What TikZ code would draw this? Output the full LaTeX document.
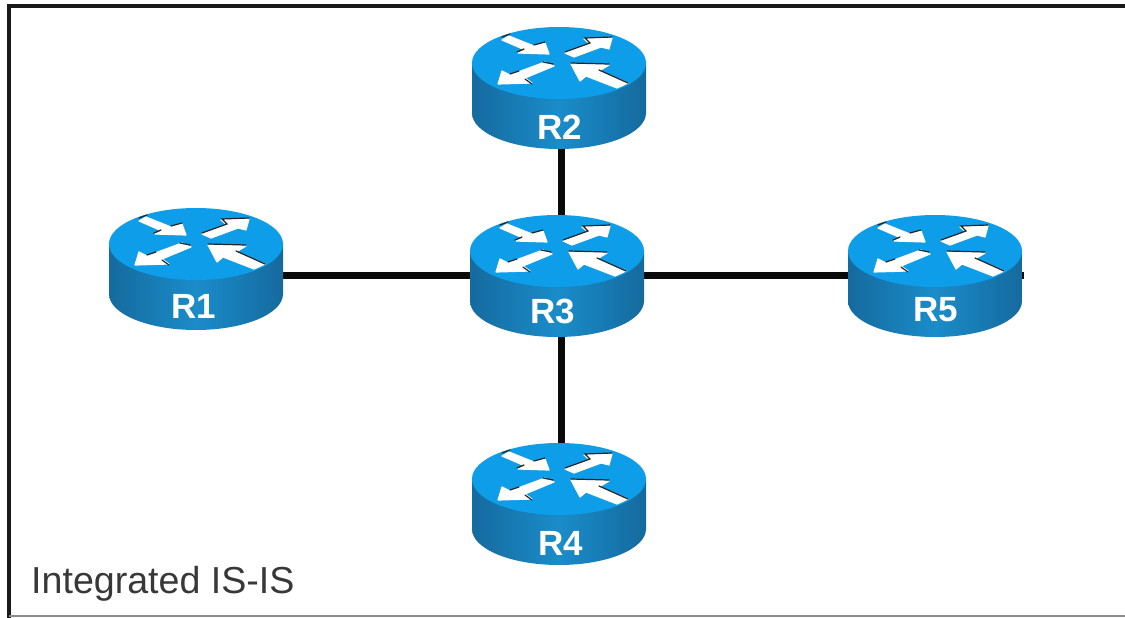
\documentclass[tikz,border=0pt]{standalone}
\usepackage{fontspec}
\setmainfont{Liberation Sans}
\usetikzlibrary{backgrounds}
\definecolor{rtop}{HTML}{0E9DE8}
\definecolor{rsideedge}{HTML}{156A9E}
\definecolor{rsidemid}{HTML}{1A8CCA}
\definecolor{linkc}{HTML}{0A0A0A}
\tikzset{
  x=1pt,y=-1pt,
  routerbox/.style={minimum width=174pt,minimum height=122pt,inner sep=0pt,draw=none},
  routerlabel/.style={text=white,font=\fontsize{35}{35}\selectfont\bfseries,inner sep=0pt},
  arrowfill/.style={fill=white,draw=white,line width=1.2pt,line join=round},
  arrowedge/.style={draw=black!85,line width=1.2pt,line cap=round},
  linkline/.style={draw=linkc,line width=7pt},
  frameline/.style={draw=black!90,line width=4.5pt},
  caption/.style={text=black!78,font=\fontsize{37.6}{37.6}\selectfont,inner sep=0pt,anchor=base west}
}
% #1 name, #2 x of centre, #3 y of the top ellipse's centre, #4 label, #5 #6 label offset
\newcommand{\routerat}[6]{%
  \begin{scope}[shift={(#2,#3)}]
    \path[left color=rsideedge,right color=rsideedge,middle color=rsidemid]
      (-87,0) -- (-87,50) arc[start angle=180,end angle=0,x radius=87,y radius=36] -- (87,0) -- cycle;
    \path[fill=rtop] (0,0) ellipse[x radius=87,y radius=36];
    \path[arrowfill] (-57,-23) -- (-50,-27) -- (-25,-17) -- (-14,-20) -- (-10,-9) -- (-41,-10) -- (-34,-13) -- cycle;
    \path[arrowfill] (6,-10) -- (31,-19) -- (25,-24) -- (53,-25) -- (50,-14) -- (42,-16) -- (15,-6) -- cycle;
    \path[arrowfill] (-61,21) -- (-57,8) -- (-49,12) -- (-14,-1) -- (-5,3) -- (-34,15) -- (-27,20) -- cycle;
    \path[arrowfill] (12,1) -- (50,2) -- (40,8) -- (69,20) -- (58,25) -- (27,13) -- (21,18) -- cycle;
    \draw[arrowedge] (-57,-26) -- (-49,-29);
    \draw[arrowedge] (-42,-11) -- (-35,-14);
    \draw[arrowedge] (-25,-18) -- (-14,-21);
    \draw[arrowedge] (6,-11) -- (31,-20) -- (26,-25) -- (53,-26);
    \draw[arrowedge] (-16,-1) -- (-6,1);
    \draw[arrowedge] (-34,16) -- (-27,21);
    \draw[arrowedge] (-49,11) -- (-40,8);
    \draw[arrowedge] (12,0) -- (50,1);
    \draw[arrowedge] (40,7) -- (69,20);
    \node[routerbox] (#1) at (0,25) {};
    \node[routerlabel] (#1label) at (#5,#6) {#4};
  \end{scope}}
\begin{document}
\begin{tikzpicture}
  \useasboundingbox (0,0) rectangle (1125,618);
  \begin{scope}[on background layer]
    \fill[white] (0,0) rectangle (1125,618);
  \end{scope}
  \coordinate (tl) at (9,6);
  \coordinate (tr) at (1125,6);
  \coordinate (bl) at (9,618);
  \coordinate (br) at (1125,616);
  \coordinate (bbl) at (9,616);
  \draw[frameline] (tr) -- (tl) -- (bl);
  \draw[black!45,line width=1.5pt] (bbl) -- (br);

  \routerat{r1}{196}{244}{R1}{-2}{62}
  \routerat{r2}{559}{63}{R2}{1}{64}
  \routerat{r3}{557}{251}{R3}{-4.5}{60}
  \routerat{r4}{559}{479}{R4}{2}{64}
  \routerat{r5}{935}{251}{R5}{1}{59}

  \coordinate (r5end) at (1024,275);
  \begin{scope}[on background layer]
    \draw[linkline] (r1 |- r5end) -- (r5end);
    \draw[linkline] ([xshift=2pt]r2.center) -- ([xshift=2pt]r4.center);
  \end{scope}
  \node[caption] (cap) at (31,593) {Integrated IS-IS};
\end{tikzpicture}
\end{document}
